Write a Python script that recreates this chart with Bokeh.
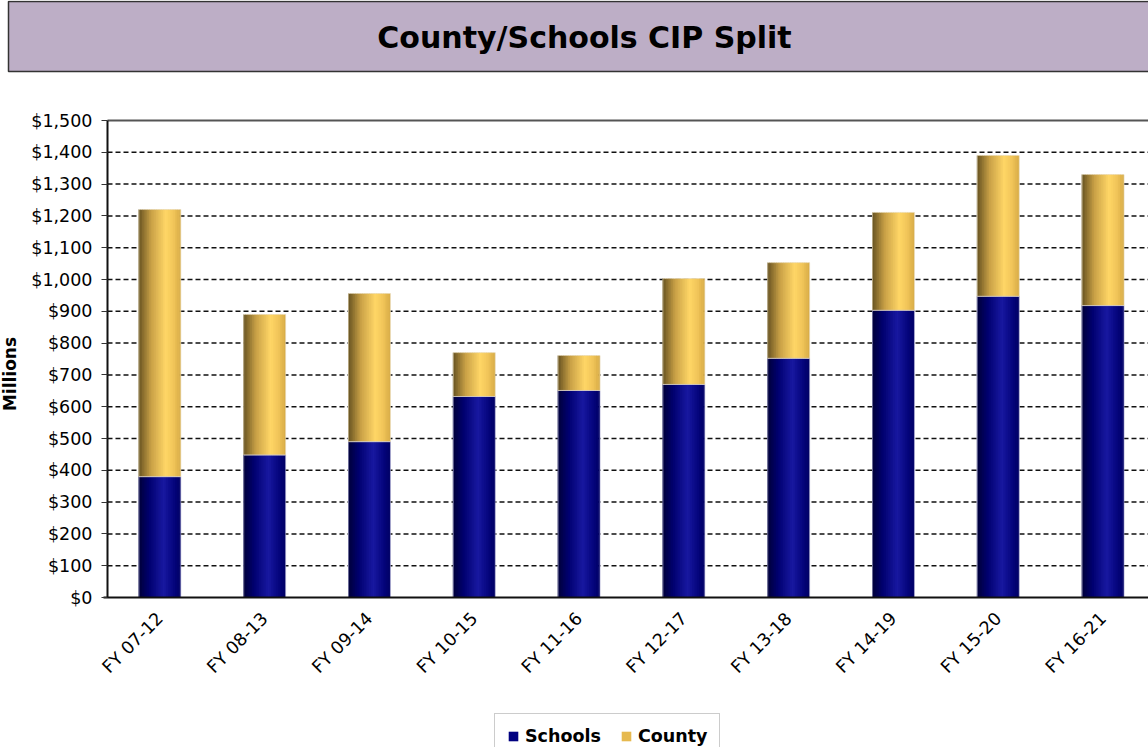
import numpy as np
from bokeh.plotting import figure
from bokeh.models import (Range1d, FixedTicker, NumeralTickFormatter,
                          Legend, LegendItem, BoxAnnotation, Label)
from bokeh.embed import file_html
from bokeh.resources import INLINE

# ---- data ----
categories = ["FY 07-12", "FY 08-13", "FY 09-14", "FY 10-15", "FY 11-16",
              "FY 12-17", "FY 13-18", "FY 14-19", "FY 15-20", "FY 16-21"]
schools = [380, 448, 490, 632, 651, 670, 752, 903, 947, 918]
county = [840, 442, 466, 138, 110, 333, 301, 308, 443, 412]
y_ticks = list(range(0, 1501, 100))
y_max = 1500
title_text = "County/Schools CIP Split"

FONT = "DejaVu Sans"
BAR_W = 0.4
N_STRIPS = 24

# ---- layout constants (pixels) ----
W, H = 1148, 747
AX_LEFT_PX, UNIT_PX = 107.0, 104.8
Y0_PX, YTOP_PX = 597.0, 120.0
PPV = (Y0_PX - YTOP_PX) / y_max
x_start = -0.5 - AX_LEFT_PX / UNIT_PX
x_end = -0.5 + (W - AX_LEFT_PX) / UNIT_PX
y_start = -(H - Y0_PX) / PPV
y_end = y_max + YTOP_PX / PPV


def px_x(px):
    return x_start + px / UNIT_PX


def px_y(py):
    return y_end - py / PPV


def lerp_color(stops, t):
    for (t0, c0), (t1, c1) in zip(stops[:-1], stops[1:]):
        if t0 <= t <= t1:
            f = (t - t0) / (t1 - t0) if t1 > t0 else 0
            c = [int(round(a + (b - a) * f)) for a, b in zip(c0, c1)]
            return "#%02x%02x%02x" % tuple(c)
    return "#%02x%02x%02x" % tuple(stops[-1][1])


navy_stops = [(0.0, (0, 0, 55)), (0.25, (0, 0, 110)), (0.6, (24, 24, 160)),
              (0.85, (5, 5, 125)), (1.0, (0, 0, 100))]
gold_stops = [(0.0, (100, 80, 32)), (0.3, (200, 160, 70)), (0.65, (255, 214, 102)),
              (0.85, (240, 196, 88)), (1.0, (215, 170, 70))]

x_idx = np.arange(len(categories))
schools_a = np.array(schools, dtype=float)
county_a = np.array(county, dtype=float)
totals = schools_a + county_a

p = figure(width=W, height=H, x_range=Range1d(x_start, x_end), y_range=Range1d(y_start, y_end),
           toolbar_location=None, output_backend="svg",
           min_border_left=0, min_border_right=0, min_border_top=0, min_border_bottom=0)
p.outline_line_color = None
p.background_fill_color = "white"
p.border_fill_color = "white"
p.xgrid.visible = False
p.ygrid.visible = False

# ---- title box ----
p.add_layout(BoxAnnotation(left=px_x(8), right=px_x(1170), top=px_y(1), bottom=px_y(71),
                           fill_color="#BDAEC6", fill_alpha=1.0,
                           line_color="#333333", line_alpha=1.0, line_width=1.5))
p.add_layout(Label(x=px_x(584), y=px_y(37), text=title_text,
                   text_font=FONT, text_font_style="bold", text_font_size="30px",
                   text_align="center", text_baseline="middle", text_color="black"))

# ---- dashed gridlines (inside plot area only) ----
grid_vals = [v for v in y_ticks if 0 < v < y_max]
p.segment(x0=[-0.5] * len(grid_vals), x1=[x_end] * len(grid_vals), y0=grid_vals, y1=grid_vals,
          line_color="#111111", line_dash="5 3", line_width=1.5)

# ---- gradient bars (strips) ----
sw = BAR_W / N_STRIPS
for k in range(N_STRIPS):
    t = (k + 0.5) / N_STRIPS
    off = -BAR_W / 2 + sw * (k + 0.5)
    wk = sw * (1.6 if k < N_STRIPS - 1 else 1.0)
    p.vbar(x=x_idx + off, width=wk, bottom=0, top=schools_a,
           fill_color=lerp_color(navy_stops, t), line_color=None)
    p.vbar(x=x_idx + off, width=wk, bottom=schools_a, top=totals,
           fill_color=lerp_color(gold_stops, t), line_color=None)

p.vbar(x=x_idx, width=BAR_W, bottom=0, top=schools_a, fill_color=None,
       line_color="#b8b8d8", line_width=1, line_alpha=0.6)
p.vbar(x=x_idx, width=BAR_W, bottom=schools_a, top=totals, fill_color=None,
       line_color="#e8dcc0", line_width=1, line_alpha=0.6)

# ---- frame lines: top border, left axis, bottom axis ----
p.segment(x0=[-0.5], x1=[x_end], y0=[y_max], y1=[y_max], line_color="#555555", line_width=2)
p.segment(x0=[-0.5], x1=[-0.5], y0=[0], y1=[y_max], line_color="#111111", line_width=2)
p.segment(x0=[px_x(103)], x1=[x_end], y0=[0], y1=[0], line_color="#111111", line_width=2)

# ---- legend ----
r_s = p.vbar(x=[0], width=BAR_W, bottom=[0], top=[0], fill_color="#000080", line_color=None)
r_c = p.vbar(x=[0], width=BAR_W, bottom=[0], top=[0], fill_color="#E6B94F", line_color=None)
legend = Legend(items=[LegendItem(label="Schools", renderers=[r_s]),
                       LegendItem(label="County", renderers=[r_c])],
                orientation="horizontal", location=(494, -12),
                label_text_font=FONT, label_text_font_style="bold",
                label_text_font_size="17.5px", label_text_color="black",
                glyph_width=12, glyph_height=12,
                label_standoff=6, spacing=19, padding=12, margin=0,
                border_line_color="#999999", border_line_width=1,
                background_fill_color="white")
p.add_layout(legend, "center")

# ---- axes at fixed locations ----
p.xaxis.fixed_location = 0
p.xaxis.ticker = FixedTicker(ticks=list(x_idx))
p.xaxis.major_label_overrides = {int(i): c for i, c in zip(x_idx, categories)}
p.xaxis.major_label_orientation = np.pi / 4
p.xaxis.major_label_text_font = FONT
p.xaxis.major_label_text_font_size = "17.5px"
p.xaxis.major_label_text_color = "black"
p.xaxis.major_tick_line_color = None
p.xaxis.minor_tick_line_color = None
p.xaxis.axis_line_color = None
p.xaxis.major_label_standoff = 12

p.yaxis.fixed_location = -0.5
p.yaxis.ticker = FixedTicker(ticks=y_ticks)
p.yaxis.formatter = NumeralTickFormatter(format="$0,0")
p.yaxis.major_label_text_font = FONT
p.yaxis.major_label_text_font_size = "17.5px"
p.yaxis.major_label_text_color = "black"
p.yaxis.major_tick_out = 6
p.yaxis.major_tick_in = 0
p.yaxis.major_tick_line_color = "#333333"
p.yaxis.minor_tick_line_color = None
p.yaxis.axis_line_color = None
p.yaxis.major_label_standoff = 9
p.yaxis.axis_label = "Millions"
p.yaxis.axis_label_text_font = FONT
p.yaxis.axis_label_text_font_style = "bold"
p.yaxis.axis_label_text_font_size = "17px"
p.yaxis.axis_label_text_color = "black"
p.yaxis.axis_label_standoff = 8

open("out.html", "w").write(file_html(p, INLINE))
